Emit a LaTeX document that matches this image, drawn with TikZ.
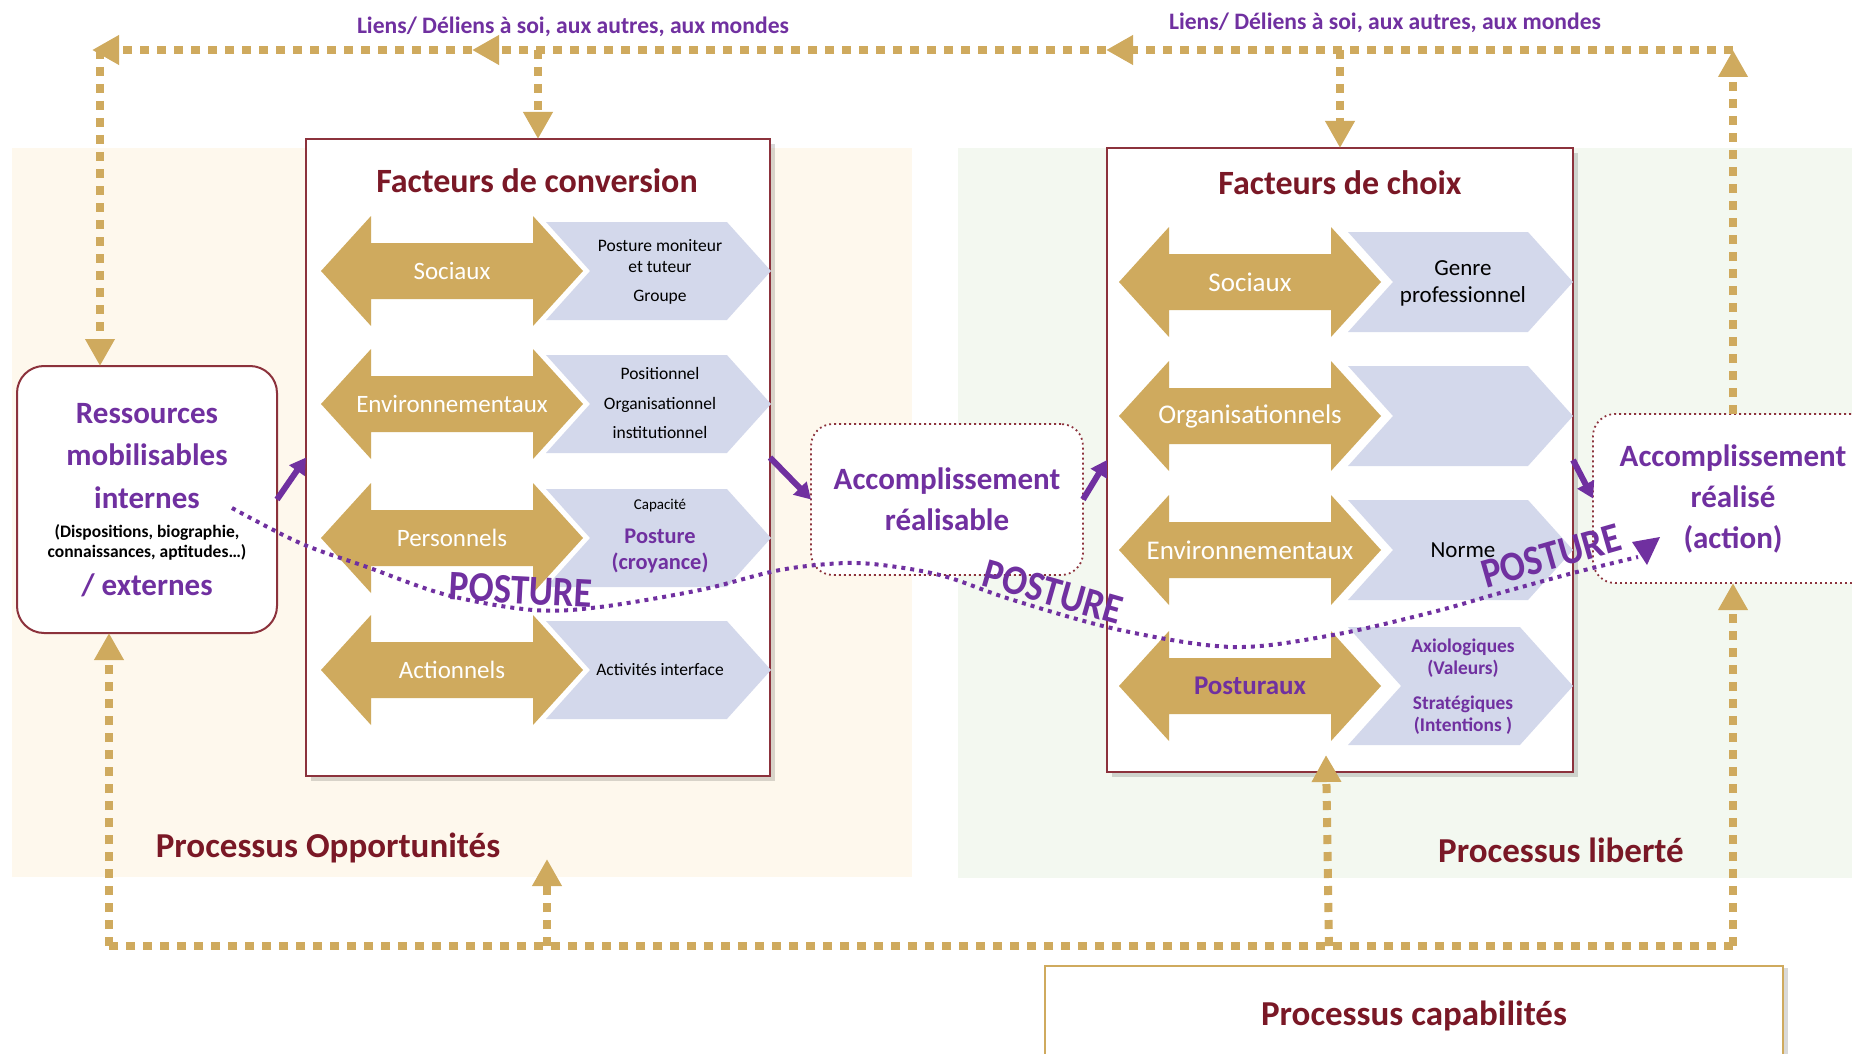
\documentclass[tikz,border=0pt]{standalone}
\usepackage{fontspec}
\setmainfont{Carlito}
\usetikzlibrary{arrows.meta,shadows,calc}
\definecolor{gold}{RGB}{207,170,94}
\definecolor{chev}{RGB}{211,216,235}
\definecolor{cream}{RGB}{254,248,237}
\definecolor{mint}{RGB}{243,248,240}
\definecolor{dred}{RGB}{122,24,38}
\definecolor{bred}{RGB}{140,50,60}
\definecolor{purp}{RGB}{112,48,160}
\newcommand{\myfz}[2]{\fontsize{#1}{#2}\selectfont}
\tikzset{
  goldline/.style={draw=gold, line width=4pt, dash pattern=on 4.5pt off 4pt},
  goldtip/.style={-{Triangle[length=13.5pt,width=14pt]}},
  factbox/.style={draw=bred, line width=1pt, fill=white, drop shadow={shadow xshift=2.5pt,shadow yshift=-2.5pt,opacity=0.15,fill=black}},
  resbox/.style={draw=bred, line width=1pt, fill=white, rounded corners=13.5pt},
  accbox/.style={draw=bred, line width=0.9pt, dash pattern=on 0.9pt off 1.6pt, fill=white, rounded corners=11pt, text=purp, font=\myfz{15.5pt}{20.5pt}\bfseries, align=center},
  capbox/.style={draw=gold, line width=0.8pt, fill=white, drop shadow={shadow xshift=2.5pt,shadow yshift=-1pt,opacity=0.15,fill=black}, text=dred, font=\myfz{17.5pt}{20pt}\bfseries},
  ttl/.style={text=dred, font=\myfz{17pt}{20pt}\bfseries},
  proc/.style={text=dred, font=\myfz{17.5pt}{20pt}\bfseries},
  liens/.style={text=purp, font=\myfz{11.8pt}{14pt}\bfseries},
  glabA/.style={text=white, font=\myfz{12.5pt}{15pt}},
  glabB/.style={text=white, font=\myfz{13.5pt}{16pt}},
  chA/.style={text=black, font=\myfz{8.75pt}{10.5pt}, align=center},
  chB/.style={text=black, font=\myfz{11.5pt}{13.5pt}, align=center},
  chP/.style={text=purp, font=\myfz{9.7pt}{11pt}\bfseries, align=center},
  restxt/.style={text=purp, font=\myfz{15.5pt}{21.25pt}\bfseries, align=center},
  ressmall/.style={text=black, font=\myfz{8.75pt}{10pt}\bfseries, align=center},
  posture/.style={text=purp, font=\myfz{21pt}{24pt}\bfseries},
  parrow/.style={draw=purp, line width=3pt, -{Triangle[length=8pt,width=9pt]}},
  pdots/.style={draw=purp, line width=2pt, dash pattern=on 2pt off 2.5pt},
  pics/dblarr/.style={code={\fill[gold] (-131,0) -- (-81,-55) -- (-81,-28) -- (81,-28) -- (81,-55) -- (131,0) -- (81,55) -- (81,28) -- (-81,28) -- (-81,55) -- cycle;}},
  pics/chevron/.style={code={\fill[chev] (0,-#1) -- ({225-0.9*#1},-#1) -- (225,0) -- ({225-0.9*#1},#1) -- (0,#1) -- ({0.9*#1},0) -- cycle;}},
}
\begin{document}
\begin{tikzpicture}[x=0.5pt,y=-0.5pt, every node/.style={inner sep=0pt, outer sep=0pt}]
\useasboundingbox (0,0) rectangle (1852,1054);
\clip (0,0) rectangle (1852,1054);
\fill[white] (0,0) rectangle (1852,1054);
% panels
\fill[cream] (12,148) rectangle (912,877);
\fill[mint] (958,148) rectangle (1852,878);

% main boxes
\node[factbox, minimum width=232pt, minimum height=318.5pt] (conv) at (538,457.5) {};
\node[factbox, minimum width=233pt, minimum height=312pt] (choix) at (1340,460) {};
\node[resbox, minimum width=130pt, minimum height=133.5pt] (res) at (147,499.5) {};
\node[accbox, minimum width=136pt, minimum height=75.5pt] (accr) at (947,499.5) {Accomplissement\\réalisable};
\node[accbox, minimum width=140pt, minimum height=84.5pt] (accd) at (1733,498.5) {Accomplissement\\réalisé\\(action)};
\node[capbox, minimum width=369pt, minimum height=50pt] (cap) at (1414,1016) {\raisebox{3pt}{Processus capabilités}};

% titles
\node[ttl] (tconv) at (537,181) {Facteurs de conversion};
\node[ttl] (tchoix) at (1340,183) {Facteurs de choix};

% conversion rows
\foreach \yy in {271,404,538,670} {
  \pic at (452,\yy) {dblarr};
  \pic at (546,\yy) {chevron=49};
}
\node[glabA] (cs) at (452,271) {Sociaux};
\node[glabA] (ce) at (452,404) {Environnementaux};
\node[glabA] (cp) at (452,538) {Personnels};
\node[glabA] (ca) at (452,670) {Actionnels};
\node[chA] (cs2) at (660,272) {Posture moniteur\\et tuteur\\[4pt]Groupe};
\node[chA, font=\myfz{8.75pt}{14.75pt}] (ce2) at (660,403) {Positionnel\\Organisationnel\\institutionnel};
\node[text=black, font=\myfz{7.5pt}{9pt}] (cp1) at (660,506) {Capacité};
\node[text=purp, font=\myfz{11.2pt}{13pt}\bfseries, align=center] (cp2) at (660,551) {Posture\\(croyance)};
\node[chA] (ca2) at (660,670) {Activités interface};

% choix rows
\foreach \yy in {282,416,550} {
  \pic at (1250,\yy) {dblarr};
  \pic at (1348,\yy) {chevron=50};
}
\pic at (1250,686) {dblarr};
\pic at (1348,686) {chevron=59};
\node[glabB] (ks) at (1250,282) {Sociaux};
\node[glabB] (ko) at (1250,416) {Organisationnels};
\node[glabB] (ke) at (1250,550) {Environnementaux};
\node[glabB, text=purp, font=\myfz{13.5pt}{16pt}\bfseries] (kp) at (1250,686) {Posturaux};
\node[chB] (ks2) at (1463,283) {Genre\\professionnel};
\node[chB] (ke2) at (1463,550) {Norme};
\node[chP] (kp2) at (1463,658) {Axiologiques\\(Valeurs)};
\node[chP] (kp3) at (1463,715) {Stratégiques\\(Intentions )};

% ressources text
\node[restxt] (r1) at (147,456) {Ressources\\mobilisables\\internes};
\node[ressmall] (r2) at (147,542) {(Dispositions, biographie,\\connaissances, aptitudes…)};
\node[restxt] (r3) at (147,585) {/ externes};

% labels
\node[liens] (l1) at (573,27) {Liens/ Déliens à soi, aux autres, aux mondes};
\node[liens] (l2) at (1385,23) {Liens/ Déliens à soi, aux autres, aux mondes};
\node[proc] (po) at (328,848) {Processus Opportunités};
\node[proc] (pl) at (1561,850) {Processus liberté};

% gold connectors
\coordinate (tR) at (1733,50);
\coordinate (tM1) at (1106,50);
\coordinate (tM2) at (472,50);
\coordinate (tL) at (100,50);
\coordinate (tLa) at (92,50);
\coordinate (bL) at (109,946);
\coordinate (bR) at (1733,946);
\coordinate (bO) at (547,946);
\coordinate (oTip) at (547,859);
\coordinate (bC) at (1329,946);
\coordinate (cTip) at (1326,755);
\draw[goldline, goldtip] (accd.north) -- (tR);
\draw[goldline, goldtip] (tR) -- (tM1);
\draw[goldline, goldtip] (tM1) -- (tM2);
\draw[goldline, goldtip] (tM2) -- (tLa);
\draw[goldline, goldtip] (tL) -- (tL |- res.north);
\draw[goldline, goldtip] (conv.north |- tL) -- (conv.north);
\draw[goldline, goldtip] (choix.north |- tL) -- (choix.north);
\draw[goldline] (bR) -- (bL);
\draw[goldline, goldtip] (bL) -- (bL |- res.south);
\draw[goldline, goldtip] (bO) -- (oTip);
\draw[goldline, goldtip] (bC) -- (cTip);
\draw[goldline, goldtip] (bR) -- (accd.south);

% posture curve
\coordinate (ps) at (232,508);
\coordinate (pe) at (1638,557);
\draw[pdots] plot[smooth, tension=0.55] coordinates {(ps) (300,543) (367,567) (447,595) (533,610) (600,607) (700,590) (780,570) (847,563) (897,567) (947,577) (1013,600) (1120,630) (1233,647) (1333,635) (1433,612) (1500,593) (1573,573) (pe)};
\fill[purp] (1632,542) -- (1660,537) -- (1647,565) -- cycle;
\node[posture, rotate=-3, xscale=0.88] (pw1) at (521,590) {POSTURE};
\node[posture, rotate=-16, xscale=0.88] (pw2) at (1053,592) {POSTURE};
\node[posture, rotate=16, xscale=0.88] (pw3) at (1551,556) {POSTURE};

% purple arrows
\draw[parrow] (res.east) -- (conv.west);
\draw[parrow] (conv.east) -- (accr.west);
\draw[parrow] (accr.east) -- (choix.west);
\draw[parrow] (choix.east) -- (accd.west);
\end{tikzpicture}
\end{document}
